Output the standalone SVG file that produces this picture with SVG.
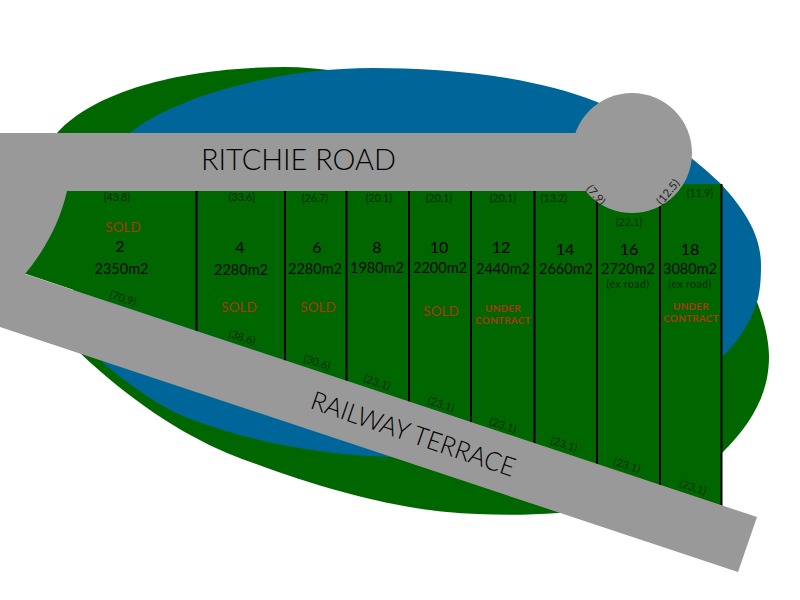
<svg xmlns="http://www.w3.org/2000/svg" width="800" height="600" viewBox="0 0 800 600">
<style>
text{font-family:"Lato","Open Sans","Liberation Sans",sans-serif;text-anchor:middle;fill:#000;font-weight:300}
.n{font-size:16px;font-weight:400}
.a{font-size:14.500px;fill:#0a0a0a;font-weight:400}
.d{font-size:10.500px;fill:#0c2c0c;font-weight:400}
.e{font-size:11px;fill:#0c2c0c;font-weight:400}
.x{font-size:10.500px;fill:#0c2c0c;font-weight:400;letter-spacing:.4px}
.s{font-size:13.500px;fill:#a83a08;font-weight:400}
.u{font-size:10px;font-weight:700;fill:#a83a08;letter-spacing:.2px}
.g{font-size:11.500px;fill:#222;font-weight:400}
.r{fill:#999}
.l{stroke:#000;stroke-width:2;fill:none}
</style>
<rect width="800" height="600" fill="#fff"/>
<path id="land" fill="#006600" d="M57,133C100,85 200,67 285,67C450,68 700,200 757,302C764,320 769,340 769,357C769,395 750,425 722,453C680,490 620,505 558,513C520,516 480,515 447,512C380,506 300,482 227,453C180,433 130,400 80,353Z"/>
<path id="water" fill="#006699" d="M130,133C170,100 270,68 373,68C440,68 530,75 597,102C640,120 680,145 720,183C750,215 761,240 761,265C761,280 760,292 757,302C750,325 735,345 722,357L390,457C330,455 260,445 193,420C160,408 130,385 103,363Z"/>
<polygon id="lots" fill="#006600" points="20,184 722,184 722,506 20,272"/>
<g id="boundaries">
<path class="l" d="M196.500,188V335M285,188V365M346.500,188V385M409,188V405M471,188V427M534.500,188V447M597,188V468M660,188V489M721.500,184V506"/>
</g>
<g id="roads">
<path class="r" d="M0,133H590V191H67C60,222 45,250 25,274L757,517L738,572L0,327Z"/>
<circle class="r" cx="632" cy="153" r="60"/>
<text x="298.500" y="170" font-size="29" textLength="195" lengthAdjust="spacingAndGlyphs" fill="#111">RITCHIE ROAD</text>
<text transform="translate(309,408) rotate(18.800)" style="text-anchor:start" font-size="26" textLength="214" lengthAdjust="spacingAndGlyphs">RAILWAY TERRACE</text>
</g>
<g id="frontage-dimensions">
<text class="d" x="117" y="201">(43.8)</text>
<text class="d" x="242" y="201">(33.6)</text>
<text class="d" x="315" y="201.500">(26.7)</text>
<text class="d" x="379" y="201.500">(20.1)</text>
<text class="d" x="439" y="201.500">(20.1)</text>
<text class="d" x="503" y="201.500">(20.1)</text>
<text class="d" x="554" y="201.500">(13.2)</text>
<text class="d" x="700" y="197">(11.9)</text>
<text class="d" x="629" y="226">(22.1)</text>
<text class="g" transform="translate(596,195) rotate(50)" y="4">(7.9)</text>
<text class="g" transform="translate(668,192) rotate(-50)" y="4">(12.5)</text>
</g>
<g id="rear-dimensions">
<text class="e" transform="translate(123,298) rotate(18)" y="4">(70.9)</text>
<text class="e" transform="translate(242,337) rotate(18)" y="4">(38.6)</text>
<text class="e" transform="translate(317,362) rotate(18)" y="4">(30.6)</text>
<text class="e" transform="translate(377,382) rotate(18)" y="4">(23.1)</text>
<text class="e" transform="translate(441,404) rotate(18)" y="4">(23.1)</text>
<text class="e" transform="translate(503,425) rotate(18)" y="4">(23.1)</text>
<text class="e" transform="translate(564,444) rotate(18)" y="4">(23.1)</text>
<text class="e" transform="translate(627,465) rotate(18)" y="4">(23.1)</text>
<text class="e" transform="translate(693,487) rotate(18)" y="4">(23.1)</text>
</g>
<g id="lot-2"><text class="s" x="123" y="232">SOLD</text><text class="n" x="120" y="252">2</text><text class="a" x="121.500" y="274">2350m2</text></g>
<g id="lot-4"><text class="n" x="240" y="253">4</text><text class="a" x="241" y="274.500">2280m2</text><text class="s" x="239" y="312">SOLD</text></g>
<g id="lot-6"><text class="n" x="317" y="253">6</text><text class="a" x="315" y="274">2280m2</text><text class="s" x="318" y="312">SOLD</text></g>
<g id="lot-8"><text class="n" x="377" y="253">8</text><text class="a" x="377" y="273">1980m2</text></g>
<g id="lot-10"><text class="n" x="439" y="253">10</text><text class="a" x="440" y="273">2200m2</text><text class="s" x="441" y="316">SOLD</text></g>
<g id="lot-12"><text class="n" x="501" y="253">12</text><text class="a" x="503" y="274">2440m2</text><text class="u" x="503" y="312">UNDER</text><text class="u" x="503" y="324">CONTRACT</text></g>
<g id="lot-14"><text class="n" x="565" y="255">14</text><text class="a" x="566" y="274">2660m2</text></g>
<g id="lot-16"><text class="n" x="629" y="255">16</text><text class="a" x="628" y="274">2720m2</text><text class="x" x="628" y="288">(ex road)</text></g>
<g id="lot-18"><text class="n" x="690" y="255">18</text><text class="a" x="690" y="273.500">3080m2</text><text class="x" x="690" y="287.500">(ex road)</text><text class="u" x="691" y="310">UNDER</text><text class="u" x="691" y="322">CONTRACT</text></g>
</svg>
